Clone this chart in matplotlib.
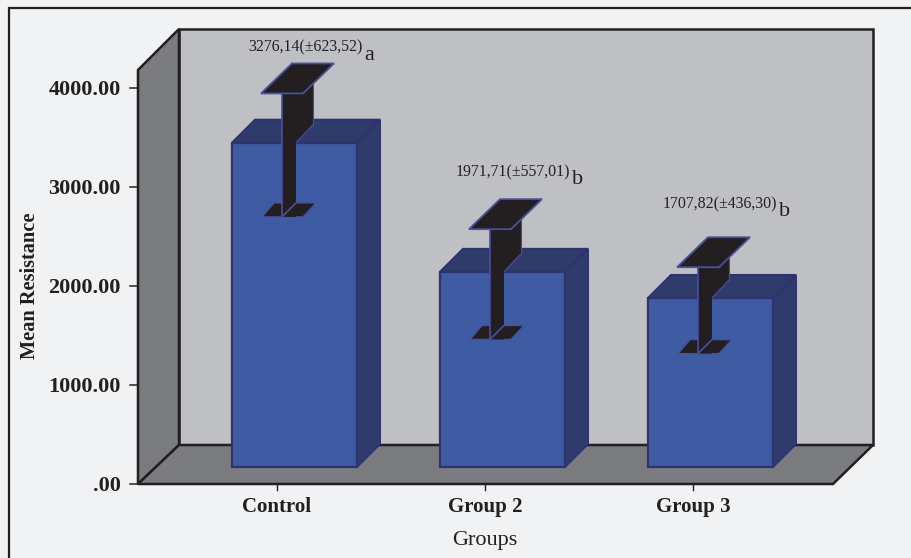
import matplotlib
matplotlib.use('Agg')
import matplotlib.pyplot as plt
from matplotlib.patches import Polygon, Rectangle

plt.rcParams['font.family'] = ['Liberation Serif', 'DejaVu Serif']

groups = ['Control', 'Group 2', 'Group 3']
means = [3276.14, 1971.71, 1707.82]
errors = [623.52, 557.01, 436.30]
value_labels = ['3276,14(±623,52)', '1971,71(±557,01)', '1707,82(±436,30)']
letters = ['a', 'b', 'b']
yticks = [0, 1000, 2000, 3000, 4000]
ytick_labels = ['.00', '1000.00', '2000.00', '3000.00', '4000.00']

W, H = 912, 558
PX = 0.099                # pixels per unit of resistance
Y0 = 484                  # pixel row of value 0

BG = '#f1f2f4'
WALL = '#bfc0c4'
SIDE = '#7b7c7f'
INK = '#231f20'
BLUE = '#3e5ba4'
DARKBLUE = '#2f3c6b'
EDGE = '#2e3270'
CAPEDGE = '#4a4f9e'


def py(row):
    # pixel row -> data value
    return (Y0 - row) / PX


fig = plt.figure(figsize=(W / 100, H / 100), dpi=100, facecolor=BG)
ax = fig.add_axes([0, 0, 1, 1])
ax.set_xlim(0, W)
ax.set_ylim(py(H), py(0))
ax.axis('off')


def poly(pts, fc, ec=INK, lw=1.5, z=2):
    ax.add_patch(Polygon([(x, py(r)) for x, r in pts], closed=True, fc=fc, ec=ec, lw=lw, zorder=z,
                         joinstyle='miter'))


def line(x0, r0, x1, r1, color=CAPEDGE, lw=1.2, z=7):
    ax.plot([x0, x1], [py(r0), py(r1)], color=color, lw=lw, zorder=z, solid_capstyle='butt')


# outer frame
ax.add_patch(Rectangle((9.5, py(H + 10)), W + 10, py(8) - py(H + 10), fc=BG, ec=INK, lw=1.6, zorder=1))

# chart box
poly([(179, 29), (873, 29), (873, 445), (179, 445)], WALL, lw=1.8)
poly([(138, 70), (179, 29), (179, 445), (138, 484)], SIDE, lw=1.8)
poly([(138, 484), (179, 445), (873, 445), (833, 484)], SIDE, lw=1.8)

# ticks
for t, lab in zip(yticks, ytick_labels):
    ax.plot([130, 138], [t, t], color=INK, lw=1.1, zorder=3)
    ax.text(121, py(Y0 - t * PX + 2), lab, ha='right', va='center', fontsize=16, fontweight='bold', color=INK)

ax.text(30, py(286), 'Mean Resistance', rotation=90, ha='center', va='center', fontsize=14.7,
        fontweight='bold', color=INK)
ax.text(485, py(540), 'Groups', ha='center', va='center', fontsize=16, color=INK)

# bars, error bars
bar_left = [232, 440, 648]
label_x = [248, 456, 663]
label_row = [47, 172, 204]
base = 467
for i in range(3):
    x0 = bar_left[i]
    x1 = x0 + 125
    top = base - means[i] * PX
    d = 23
    poly([(x0, top), (x0 + d, top - d), (x1 + d, top - d), (x1, top)], DARKBLUE, EDGE, 1.4, 4)
    poly([(x1, top), (x1 + d, top - d), (x1 + d, base - d), (x1, base)], DARKBLUE, EDGE, 1.4, 4)
    poly([(x0, top), (x1, top), (x1, base), (x0, base)], BLUE, EDGE, 1.6, 4)

    mid = top + 12.5
    hi = mid - errors[i] * PX
    lo = mid + errors[i] * PX

    # lower cap
    poly([(x0 + 30, lo), (x0 + 42, lo - 14), (x0 + 84, lo - 14), (x0 + 71, lo)], INK, CAPEDGE, 1, 5)
    # stem with its side
    poly([(x0 + 50, hi), (x0 + 81, hi - 30), (x0 + 81, top - 18), (x0 + 64, top), (x0 + 64, lo), (x0 + 50, lo)],
         INK, 'none', 0, 6)
    line(x0 + 50, hi, x0 + 50, lo)
    line(x0 + 50, lo, x0 + 64, lo - 14)
    line(x0 + 81, hi - 30, x0 + 81, top - 18, lw=0.8)
    line(x0 + 81, top - 18, x0 + 64, top, lw=0.8)
    # upper cap
    poly([(x0 + 29, hi), (x0 + 60, hi - 30), (x0 + 102, hi - 30), (x0 + 71, hi)], INK, CAPEDGE, 1.3, 8)

    ax.text(label_x[i], py(label_row[i]), value_labels[i], ha='left', va='center', fontsize=11.4, color=INK, zorder=9)
    ax.text(label_x[i] + 116, py(label_row[i] + 8), letters[i], ha='left', va='center', fontsize=16, color=INK, zorder=9)

    # x tick and category label
    xc = x0 + 45
    ax.plot([xc, xc], [py(484), py(490)], color=INK, lw=1, zorder=3)
    ax.text(xc, py(507), groups[i], ha='center', va='center', fontsize=15, fontweight='bold', color=INK)

fig.savefig('out.png', dpi=100, facecolor=BG)
